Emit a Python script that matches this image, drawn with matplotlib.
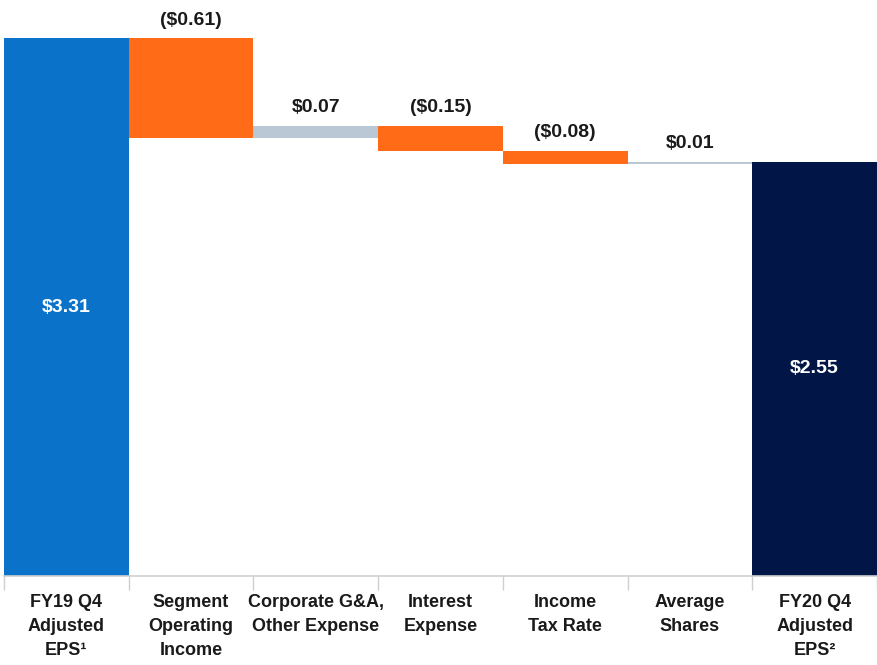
import numpy as np
import matplotlib
matplotlib.use("Agg")
from matplotlib import pyplot as plt

# EPS bridge: FY19 Q4 -> FY20 Q4
categories = [
    "FY19 Q4\nAdjusted\nEPS\u00b9",
    "Segment\nOperating\nIncome",
    "Corporate G&A,\nOther Expense",
    "Interest\nExpense",
    "Income\nTax Rate",
    "Average\nShares",
    "FY20 Q4\nAdjusted\nEPS\u00b2",
]
start_eps = 3.31
end_eps = 2.55
deltas = [-0.61, 0.07, -0.15, -0.08, 0.01]

BLUE = "#0a72c9"
ORANGE = "#ff6b17"
GRAY = "#bac8d6"
LINE_GRAY = "#cfcfcf"
NAVY = "#011646"
TEXT = "#1a1a1a"
FONT = ["Liberation Sans Narrow", "Liberation Sans", "DejaVu Sans"]


def money(v):
    s = f"${abs(v):.2f}"
    return f"({s})" if v < 0 else s


fig = plt.figure(figsize=(8.78, 6.65), dpi=100)
ax = fig.add_axes([4 / 878, 89 / 665, 873 / 878, 576 / 665])

x = np.arange(len(categories))

# running total before each step
levels = start_eps + np.concatenate([[0], np.cumsum(deltas)])
bottoms = np.minimum(levels[:-1], levels[1:])
heights = np.abs(deltas)
step_colors = [ORANGE if d < 0 else GRAY for d in deltas]

ax.bar(x[0], start_eps, width=1.0, color=BLUE, linewidth=0)
ax.bar(x[1:-1], heights, bottom=bottoms, width=1.0, color=step_colors, linewidth=0)
ax.bar(x[-1], end_eps, width=1.0, color=NAVY, linewidth=0)

# value labels
ax.text(x[0], start_eps / 2, money(start_eps), ha="center", va="center",
        color="white", fontsize=14, fontweight="bold", family=FONT)
ax.text(x[-1], end_eps / 2, money(end_eps), ha="center", va="center",
        color="white", fontsize=14, fontweight="bold", family=FONT)
for xi, b, h, d in zip(x[1:-1], bottoms, heights, deltas):
    ax.annotate(money(d), (xi, b + h), xytext=(0, 7), textcoords="offset points",
                ha="center", va="bottom", color=TEXT, fontsize=14,
                fontweight="bold", family=FONT)

ax.set_xlim(-0.5, len(categories) - 0.5)
ax.set_ylim(0, 576 / 162.4)

for side in ["top", "right", "left"]:
    ax.spines[side].set_visible(False)
ax.spines["bottom"].set_color(LINE_GRAY)
ax.spines["bottom"].set_linewidth(1.2)
ax.set_yticks([])

# separators between categories on the axis line
ax.set_xticks(np.arange(-0.5, len(categories)), minor=True)
ax.tick_params(axis="x", which="minor", length=10, width=1, color=LINE_GRAY)
ax.set_xticks(x)
ax.set_xticklabels(categories, fontsize=13, fontweight="bold", color=TEXT,
                   family=FONT, linespacing=1.55)
ax.tick_params(axis="x", which="major", length=0, pad=13)

fig.savefig("out.png", dpi=100)
